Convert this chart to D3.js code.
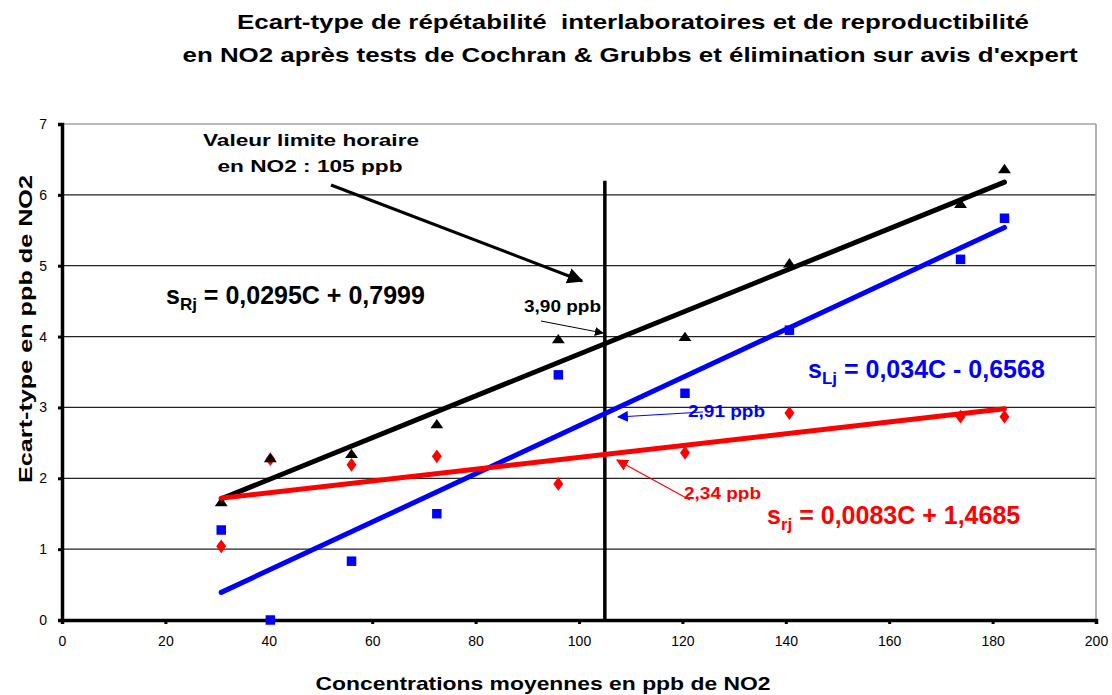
<!DOCTYPE html>
<html>
<head>
<meta charset="utf-8">
<script src="https://cdn.jsdelivr.net/npm/d3@7"></script>
<style>
  body { margin: 0; background: #fff; }
  text { font-family: "Liberation Sans", Arial, sans-serif; white-space: pre; }
</style>
</head>
<body>
<svg width="1112" height="695"></svg>
<script>
// concentrations (ppb NO2)
var conc = [30.8, 40.3, 56, 72.5, 96, 120.5, 140.7, 173.8, 182.3];
// reproductibilite s_R (black triangles)
var sR = [1.65, 2.27, 2.33, 2.75, 3.95, 3.98, 5.02, 5.86, 6.35];
// interlaboratoires s_L (blue squares)
var sL = [1.27, 0.0, 0.83, 1.50, 3.46, 3.20, 4.09, 5.09, 5.67];
// repetabilite s_r (red diamonds)
var sr = [1.04, 2.27, 2.19, 2.31, 1.92, 2.36, 2.92, 2.87, 2.87];

// trend line ends
var trendR = [[30.8, 1.71], [182.3, 6.18]];
var trendL = [[30.8, 0.39], [182.3, 5.54]];
var trendr = [[30.8, 1.72], [182.3, 2.98]];

var xTicks = [0, 20, 40, 60, 80, 100, 120, 140, 160, 180, 200];
var yTicks = [0, 1, 2, 3, 4, 5, 6, 7];
var limitValue = 105;

var svg = d3.select("svg");
var x = d3.scaleLinear().domain([0, 200]).range([62, 1096]);
var y = d3.scaleLinear().domain([0, 7]).range([620, 124]);

// text with a fixed width (the original fonts render wider)
function wide_text(xp, yp, txt, size, len) {
  return svg.append("text")
    .attr("x", xp).attr("y", yp)
    .attr("text-anchor", "middle")
    .attr("textLength", len).attr("lengthAdjust", "spacingAndGlyphs")
    .style("font-weight", "bold").style("font-size", size + "px")
    .text(txt);
}

// ---- title
wide_text(633, 29, "Ecart-type de répétabilité  interlaboratoires et de reproductibilité", 21, 792);
wide_text(630, 62, "en NO2 après tests de Cochran & Grubbs et élimination sur avis d'expert", 21, 895);

// ---- grid
svg.append("g").selectAll("line")
  .data(yTicks.filter(function(d){ return d > 0; }))
  .enter().append("line")
  .attr("x1", x(0)).attr("x2", x(200))
  .attr("y1", function(d){ return y(d); })
  .attr("y2", function(d){ return y(d); })
  .attr("stroke", function(d){ return d == 7 ? "#777" : "#222"; })
  .attr("stroke-width", 1.2);

svg.append("line")
  .attr("x1", x(200)).attr("x2", x(200)).attr("y1", y(7)).attr("y2", y(0))
  .attr("stroke", "#999").attr("stroke-width", 1.5);

// ---- axes
var xAxis = svg.append("g").attr("transform", "translate(0," + y(0) + ")")
  .call(d3.axisBottom(x).tickValues(xTicks).tickSize(4).tickPadding(12));
var yAxis = svg.append("g").attr("transform", "translate(" + x(0) + ",0)")
  .call(d3.axisLeft(y).tickValues(yTicks).tickFormat(d3.format("d")).tickSize(4).tickPadding(11));

[xAxis, yAxis].forEach(function(a){
  a.select(".domain").attr("stroke", "#000").attr("stroke-width", 3.5);
  a.selectAll(".tick line").attr("stroke", "#000").attr("stroke-width", 3);
  a.selectAll(".tick text").style("font-size", "14px").attr("fill", "#000")
    .style("font-family", "'Liberation Sans', Arial, sans-serif");
});

// axis titles
wide_text(543, 690, "Concentrations moyennes en ppb de NO2", 19, 455);
wide_text(0, 0, "Ecart-type en ppb de NO2", 19, 308)
  .attr("transform", "translate(32,329) rotate(-90)");

// ---- limit line
svg.append("line")
  .attr("x1", x(limitValue)).attr("x2", x(limitValue))
  .attr("y1", y(6.2)).attr("y2", y(0))
  .attr("stroke", "#000").attr("stroke-width", 3.5);

// ---- markers
var triangle = d3.symbol().type(d3.symbolTriangle).size(50);
var square = d3.symbol().type(d3.symbolSquare).size(90);
var diamond = d3.symbol().type(d3.symbolDiamond).size(55);

function draw_points(vals, sym, col, sx) {
  svg.append("g").selectAll("path")
    .data(vals).enter().append("path")
    .attr("d", sym)
    .attr("fill", col)
    .attr("transform", function(d, i){
      return "translate(" + x(conc[i]) + "," + y(d) + ") scale(" + sx + ",1)";
    });
}
draw_points(sL, square, "#0000ff", 1);
draw_points(sr, diamond, "#ff0000", 1.25);
draw_points(sR, triangle, "#000", 1.2);

// ---- trend lines
var line = d3.line().x(function(d){ return x(d[0]); }).y(function(d){ return y(d[1]); });
function draw_trend(pts, col) {
  svg.append("path").datum(pts)
    .attr("d", line).attr("fill", "none")
    .attr("stroke", col).attr("stroke-width", 5).attr("stroke-linecap", "round");
}
draw_trend(trendR, "#000");
draw_trend(trendL, "#0000ff");
draw_trend(trendr, "#ff0000");

// ---- annotations
var defs = svg.append("defs");
function marker(id, col, w) {
  defs.append("marker").attr("id", id)
    .attr("viewBox", "0 0 10 10").attr("refX", 9).attr("refY", 5)
    .attr("markerWidth", w).attr("markerHeight", w)
    .attr("markerUnits", "userSpaceOnUse")
    .attr("orient", "auto")
    .append("path").attr("d", "M0,0L10,5L0,10Z").attr("fill", col);
}
marker("ak", "#000", 16);
marker("aks", "#000", 9);
marker("ab", "#0000ff", 11);
marker("ar", "#ff0000", 12);

function arrow(x1, y1, x2, y2, col, w, m) {
  svg.append("line")
    .attr("x1", x1).attr("y1", y1).attr("x2", x2).attr("y2", y2)
    .attr("stroke", col).attr("stroke-width", w)
    .attr("marker-end", "url(#" + m + ")");
}

wide_text(311, 146, "Valeur limite horaire", 17, 216);
wide_text(310, 172, "en NO2 : 105 ppb", 17, 185);
arrow(331, 185, 582, 281, "#000", 3, "ak");

function equation(xp, yp, sub, rest, col) {
  var t = svg.append("text").attr("x", xp).attr("y", yp)
    .attr("fill", col).style("font-weight", "bold").style("font-size", "25px");
  t.append("tspan").text("s");
  t.append("tspan").attr("dy", 6).style("font-size", "17px").text(sub);
  t.append("tspan").attr("dy", -6).text(" = " + rest);
}
equation(166, 304, "Rj", "0,0295C + 0,7999", "#000");
equation(808, 378, "Lj", "0,034C - 0,6568", "#0000ff");
equation(767, 524, "rj", "0,0083C + 1,4685", "#ff0000");

function ppb(xp, yp, txt, col) {
  svg.append("text").attr("x", xp).attr("y", yp).attr("fill", col)
    .attr("textLength", 77).attr("lengthAdjust", "spacingAndGlyphs")
    .style("font-weight", "bold").style("font-size", "16px").text(txt);
}
ppb(524, 312, "3,90 ppb", "#000");
arrow(541, 321, 603, 333, "#000", 1, "aks");
arrow(703, 412, 618, 417, "#0000ff", 1.2, "ab");
ppb(688, 417, "2,91 ppb", "#0000ff");
arrow(690, 500, 617, 460, "#ff0000", 1.2, "ar");
ppb(684, 499, "2,34 ppb", "#ff0000");
</script>
</body>
</html>
